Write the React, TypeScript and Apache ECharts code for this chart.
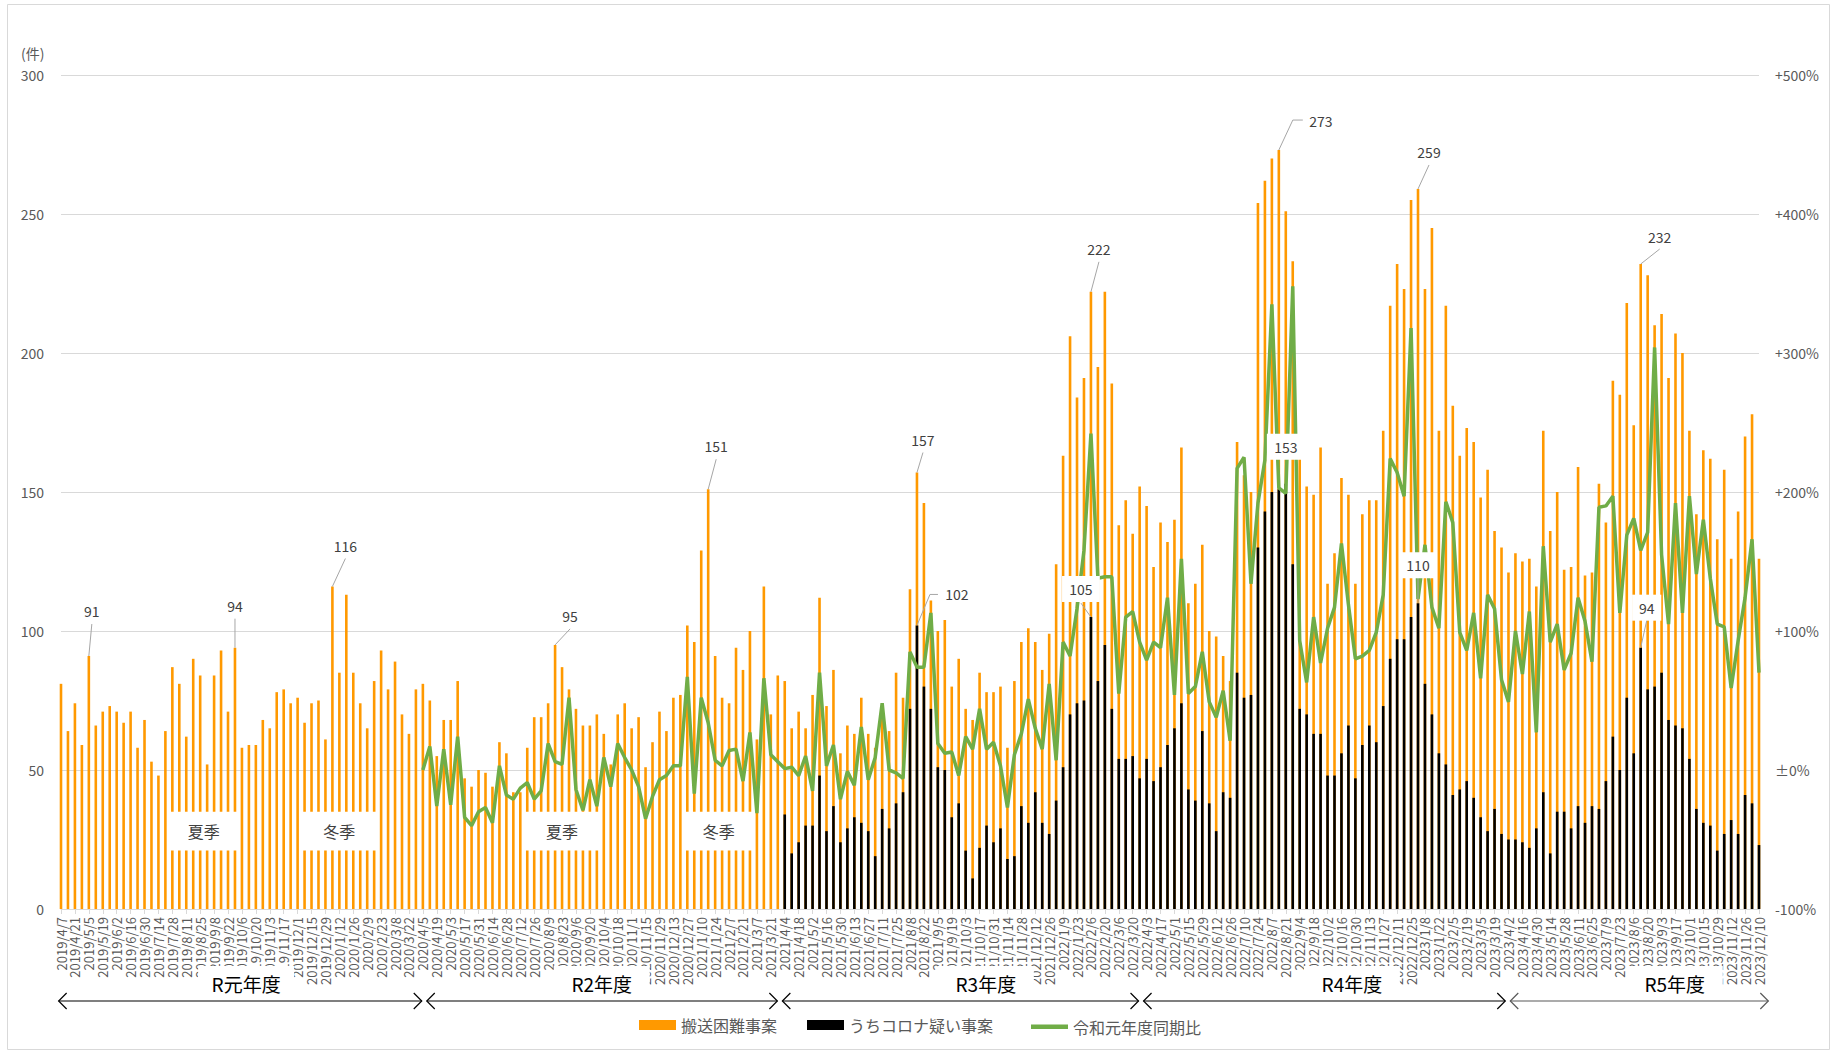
import React, { useEffect, useRef } from 'react';
import * as echarts from 'echarts';

const FONT = '"Noto Sans CJK JP", "Noto Sans", sans-serif';

// Weekly category labels (Sundays) from 2019/4/7 to 2023/12/10
function makeWeeks(count: number): string[] {
  const out: string[] = [];
  for (let i = 0; i < count; i++) {
    const d = new Date(2019, 3, 7 + 7 * i);
    out.push(`${d.getFullYear()}/${d.getMonth() + 1}/${d.getDate()}`);
  }
  return out;
}
const weekLabels = makeWeeks(245);

// 搬送困難事案 (件) – all weeks
const difficultR1 = [81, 64, 74, 59, 91, 66, 71, 73, 71, 67, 71, 58, 68, 53, 48, 64, 87, 81, 62, 90, 84, 52, 84, 93, 71, 94, 58, 59,
  59, 68, 65, 78, 79, 74, 76, 67, 74, 75, 61, 116, 85, 113, 85, 74, 65, 82, 93, 79, 89, 70, 63, 79];
const difficultR2 = [81, 75, 55, 68, 68, 82, 47, 44, 50, 49, 44, 60, 56, 42, 42, 58, 69, 69, 74, 95, 87, 79, 72, 66, 66, 70, 63, 52, 70, 74,
  65, 69, 51, 60, 71, 64, 76, 77, 102, 96, 129, 151, 91, 76, 74, 94, 86, 100, 61, 116, 70, 84];
const difficultR3 = [82, 65, 71, 65, 77, 112, 73, 86, 56, 66, 63, 76, 63, 58, 71, 64, 85, 76, 115, 157, 146, 111, 100, 104, 80, 90, 72, 68, 85, 78,
  78, 80, 58, 82, 96, 101, 96, 86, 99, 124, 163, 206, 184, 191, 222, 195, 222, 189, 138, 147, 135, 152];
const difficultR4 = [145, 123, 139, 132, 140, 166, 110, 117, 131, 100, 98, 91, 82, 168, 156, 150, 254, 262, 270, 273, 251, 233, 162, 152, 149, 166, 117, 128, 155, 149,
  117, 142, 147, 147, 172, 217, 232, 223, 255, 259, 223, 245, 172, 217, 181, 163, 173, 168, 148, 158, 136, 130];
const difficultR5 = [121, 128, 125, 126, 116, 172, 136, 150, 122, 123, 159, 120, 121, 153, 139, 190, 185, 218, 174, 232, 228, 210, 214, 191, 207, 200, 172, 142,
  165, 162, 133, 158, 126, 143, 170, 178, 126];
const difficultCases = [...difficultR1, ...difficultR2, ...difficultR3, ...difficultR4, ...difficultR5];

// うちコロナ疑い事案 (件) – from 2021/4/4
const CORONA_START = 104;
const coronaR3 = [34, 20, 24, 30, 30, 48, 28, 37, 24, 29, 33, 31, 28, 19, 36, 29, 38, 42, 72, 102, 80, 72, 51, 50, 33, 38, 21, 11, 22, 30,
  24, 29, 18, 19, 37, 31, 42, 31, 27, 39, 51, 70, 74, 75, 105, 82, 95, 72, 54, 54, 55, 47];
const coronaR4 = [54, 46, 51, 59, 65, 74, 43, 39, 64, 38, 28, 42, 40, 85, 76, 77, 130, 143, 150, 151, 153, 124, 72, 70, 63, 63, 48, 48, 56, 66,
  47, 59, 66, 60, 73, 90, 97, 97, 105, 110, 81, 70, 56, 52, 41, 43, 46, 40, 33, 28, 36, 27];
const coronaR5 = [25, 25, 24, 22, 29, 42, 20, 35, 35, 29, 37, 31, 37, 36, 46, 62, 50, 76, 56, 94, 79, 80, 85, 68, 66, 65, 54, 36, 31, 30,
  21, 27, 32, 27, 41, 38, 23];
const coronaSuspected = [...coronaR3, ...coronaR4, ...coronaR5];

// 令和元年度同期比 (%) – from 2020/4/5
const RATIO_START = 52;
const ratioR2 = [0, 17, -26, 15, -25, 24, -34, -40, -30, -27, -38, 3, -18, -21, -13, -9, -21, -15, 19, 6, 4, 52, -14, -29, -7, -26, 9, -12, 19, 9,
  0, -12, -35, -19, -7, -4, 3, 3, 67, -17, 52, 34, 7, 3, 14, 15, -8, 27, -31, 66, 11, 6];
const ratioR3 = [1, 2, -4, 10, -15, 70, 3, 18, -21, -1, -11, 31, -7, 9, 48, 0, -2, -6, 85, 74, 74, 113, 19, 12, 13, -4, 24, 15, 44, 15,
  20, 3, -27, 11, 26, 51, 30, 15, 62, 7, 92, 82, 116, 158, 242, 138, 139, 139, 55, 110, 114, 92];
const ratioR4 = [79, 92, 88, 124, 54, 152, 55, 60, 85, 49, 38, 57, 21, 217, 225, 134, 192, 223, 335, 203, 199, 348, 93, 63, 110, 77, 102, 117, 163, 119,
  80, 82, 86, 99, 126, 224, 214, 197, 318, 123, 162, 117, 102, 193, 178, 99, 86, 113, 66, 126, 116, 65];
const ratioR5 = [49, 100, 69, 114, 27, 161, 92, 105, 72, 84, 124, 107, 78, 189, 190, 197, 113, 169, 181, 158, 171, 304, 155, 105, 192, 113, 197, 141,
  180, 138, 105, 103, 59, 93, 124, 166, 70];
const ratioVsR1 = [...ratioR2, ...ratioR3, ...ratioR4, ...ratioR5];

const seriesNames = ['搬送困難事案', 'うちコロナ疑い事案', '令和元年度同期比'];
const GREEN = '#70AD47';

// Fiscal-year spans (category index positions) and labels
const fiscalNames = ['R元年度', 'R2年度', 'R3年度', 'R4年度', 'R5年度'];
const fiscalBounds = [-0.7, 52.2, 103.3, 155.2, 207.9, 245.7];
const fiscalLabelAt = [26.6, 77.7, 132.9, 185.5, 231.9];

// Season boxes (category index ranges)
const seasonNames = ['夏季', '冬季', '夏季', '冬季'];
const seasonFrom = [15.5, 34.5, 66.5, 89.5];
const seasonTo = [25.5, 45.5, 77.5, 99.5];

// Callout labels: series kind, index, label offset, leader points, white box
type Callout = { kind: 'o' | 'b'; idx: number; dx: number; dy: number; leader: number[][]; box?: boolean };
const callouts: Callout[] = [
  { kind: 'o', idx: 4, dx: 3, dy: -45, leader: [[0, 0], [3, -32]] },
  { kind: 'o', idx: 25, dx: 0, dy: -42, leader: [[0, 0], [0, -29]] },
  { kind: 'o', idx: 39, dx: 13, dy: -41, leader: [[0, 0], [13, -28]] },
  { kind: 'o', idx: 71, dx: 15, dy: -29, leader: [[0, 0], [15, -16]] },
  { kind: 'o', idx: 93, dx: 8, dy: -43, leader: [[0, 0], [8, -30]] },
  { kind: 'o', idx: 123, dx: 6, dy: -33, leader: [[0, 0], [6, -20]] },
  { kind: 'b', idx: 123, dx: 40, dy: -31, leader: [[0, 0], [13, -31], [21, -31]] },
  { kind: 'o', idx: 148, dx: 8, dy: -43, leader: [[0, 0], [8, -30]] },
  { kind: 'b', idx: 148, dx: -10, dy: -28, leader: [[0, 0], [-10, -14]], box: true },
  { kind: 'o', idx: 175, dx: 42, dy: -29, leader: [[0, 0], [14, -30], [24, -30]] },
  { kind: 'b', idx: 176, dx: 0, dy: -37, leader: [], box: true },
  { kind: 'o', idx: 195, dx: 11, dy: -37, leader: [[0, 0], [11, -24]] },
  { kind: 'b', idx: 195, dx: 0, dy: -38, leader: [[0, 0], [0, -26]], box: true },
  { kind: 'o', idx: 227, dx: 19, dy: -27, leader: [[0, 0], [19, -15]] },
  { kind: 'b', idx: 227, dx: 6, dy: -40, leader: [[0, 0], [6, -27]], box: true },
];

function pctLabel(v: number): string {
  if (v > 0) return `+${v}%`;
  if (v === 0) return '±0%';
  return `${v}%`;
}

export default function App() {
  const ref = useRef<HTMLDivElement>(null);

  useEffect(() => {
    const el = ref.current;
    if (!el) return;
    const chart = echarts.init(el, null, { renderer: 'svg' });

    const blackData = weekLabels.map((_, i) => (i < CORONA_START ? null : coronaSuspected[i - CORONA_START]));
    const greenData = weekLabels.map((_, i) => (i < RATIO_START ? null : ratioVsR1[i - RATIO_START]));

    chart.setOption({
      animation: false,
      backgroundColor: '#ffffff',
      textStyle: { fontFamily: FONT },
      grid: { left: 61, right: 75, top: 75, bottom: 144, containLabel: false },
      legend: {
        top: 1012,
        left: 634,
        itemWidth: 37,
        itemHeight: 10,
        itemGap: 30,
        textStyle: { fontSize: 16, color: '#595959', fontFamily: FONT },
        data: [
          { name: seriesNames[0], icon: 'rect' },
          { name: seriesNames[1], icon: 'rect' },
        ],
      },
      xAxis: {
        type: 'category',
        data: weekLabels,
        boundaryGap: false,
        axisLine: { lineStyle: { color: '#d9d9d9' } },
        axisTick: { show: true, length: 5, lineStyle: { color: '#d9d9d9' } },
        axisLabel: {
          interval: 1, rotate: 90, margin: 8, fontSize: 13, color: '#595959', fontFamily: FONT,
          showMinLabel: true, showMaxLabel: true, hideOverlap: false,
        },
        splitLine: { show: false },
      },
      yAxis: [
        {
          type: 'value', min: 0, max: 300, interval: 50,
          axisLine: { show: false }, axisTick: { show: false },
          axisLabel: { fontSize: 14, color: '#595959', margin: 17, fontFamily: FONT },
          splitLine: { lineStyle: { color: '#d9d9d9', width: 1 } },
        },
        {
          type: 'value', min: -100, max: 500, interval: 100, position: 'right',
          axisLine: { show: false }, axisTick: { show: false },
          axisLabel: { fontSize: 14, color: '#595959', margin: 16, fontFamily: FONT, formatter: (v: number) => pctLabel(v) },
          splitLine: { show: false },
        },
      ],
      series: [
        { name: seriesNames[0], type: 'bar', data: difficultCases, barWidth: 2.6, barGap: '-100%', clip: false, itemStyle: { color: '#FF9900' }, z: 2 },
        { name: seriesNames[1], type: 'bar', data: blackData, barWidth: 2.6, barGap: '-100%', clip: false, itemStyle: { color: '#000000' }, z: 3 },
        {
          name: seriesNames[2], type: 'line', yAxisIndex: 1, data: greenData, symbol: 'none', showSymbol: false,
          lineStyle: { color: GREEN, width: 3.5 }, itemStyle: { color: GREEN }, z: 4,
        },
      ],
    });

    const x0 = chart.convertToPixel({ xAxisIndex: 0 }, weekLabels[0]) as number;
    const xN = chart.convertToPixel({ xAxisIndex: 0 }, weekLabels[weekLabels.length - 1]) as number;
    const step = (xN - x0) / (weekLabels.length - 1);
    const xAt = (i: number) => x0 + i * step;
    const yAt = (v: number) => chart.convertToPixel({ yAxisIndex: 0 }, v) as number;

    const g: any[] = [];
    g.push({ type: 'rect', z: 100, silent: true, shape: { x: 7.5, y: 4.5, width: 1822, height: 1045 }, style: { fill: 'none', stroke: '#d9d9d9', lineWidth: 1 } });
    g.push({ type: 'text', z: 100, x: 21, y: 53, style: { text: '(件)', fontSize: 14, fill: '#595959', fontFamily: FONT, align: 'left', verticalAlign: 'middle' } });

    // legend entry for the ratio line (thick line swatch)
    g.push({ type: 'rect', z: 100, shape: { x: 1031, y: 1024.5, width: 37, height: 4.5 }, style: { fill: GREEN } });
    g.push({ type: 'text', z: 100, x: 1073, y: 1027, style: { text: seriesNames[2], fontSize: 16, fill: '#595959', fontFamily: FONT, align: 'left', verticalAlign: 'middle' } });

    // seasons
    seasonNames.forEach((name, k) => {
      const xa = xAt(seasonFrom[k]);
      const xb = xAt(seasonTo[k]);
      const ya = yAt(35);
      const yb = yAt(21);
      g.push({ type: 'rect', z: 100, shape: { x: xa, y: ya, width: xb - xa, height: yb - ya }, style: { fill: '#ffffff' } });
      g.push({ type: 'text', z: 101, x: (xa + xb) / 2, y: (ya + yb) / 2, style: { text: name, fontSize: 16, fill: '#404040', fontFamily: FONT, align: 'center', verticalAlign: 'middle' } });
    });

    // fiscal years
    const ay = 1001;
    fiscalNames.forEach((name, k) => {
      const xs = xAt(fiscalBounds[k]) + 2.5;
      const xe = xAt(fiscalBounds[k + 1]) - 2.5;
      const col = k === 4 ? '#595959' : '#000000';
      const lx = xAt(fiscalLabelAt[k]);
      g.push({ type: 'rect', z: 100, shape: { x: lx - 48, y: 966, width: 96, height: 34 }, style: { fill: '#ffffff' } });
      g.push({ type: 'line', z: 101, shape: { x1: xs, y1: ay, x2: xe, y2: ay }, style: { stroke: col, lineWidth: 1.2 } });
      g.push({ type: 'polyline', z: 101, shape: { points: [[xs + 8, ay - 8], [xs, ay], [xs + 8, ay + 8]] }, style: { stroke: col, lineWidth: 1.2, fill: 'none' } });
      g.push({ type: 'polyline', z: 101, shape: { points: [[xe - 8, ay - 8], [xe, ay], [xe - 8, ay + 8]] }, style: { stroke: col, lineWidth: 1.2, fill: 'none' } });
      g.push({ type: 'text', z: 102, x: lx, y: 983, style: { text: name, fontSize: 19, fill: '#000000', fontFamily: FONT, align: 'center', verticalAlign: 'middle' } });
    });

    // callouts
    callouts.forEach((c) => {
      const v = c.kind === 'o' ? difficultCases[c.idx] : coronaSuspected[c.idx - CORONA_START];
      const bx = xAt(c.idx);
      const by = yAt(v);
      if (c.leader.length > 1) {
        g.push({ type: 'polyline', z: 101, shape: { points: c.leader.map((p) => [bx + p[0], by + p[1]]) }, style: { stroke: '#a6a6a6', lineWidth: 1, fill: 'none' } });
      }
      const tx = bx + c.dx;
      const ty = by + c.dy;
      const txt = String(v);
      if (c.box) {
        const w = txt.length * 8.6 + 12;
        g.push({ type: 'rect', z: 101, shape: { x: tx - w / 2, y: ty - 13, width: w, height: 26 }, style: { fill: '#ffffff' } });
      }
      g.push({ type: 'text', z: 102, x: tx, y: ty, style: { text: txt, fontSize: 14, fill: '#404040', fontFamily: FONT, align: 'center', verticalAlign: 'middle' } });
    });

    chart.setOption({ graphic: g });

    return () => {
      chart.dispose();
    };
  }, []);

  return <div ref={ref} style={{ position: 'absolute', left: 0, top: 0, width: 1834, height: 1053 }} />;
}
